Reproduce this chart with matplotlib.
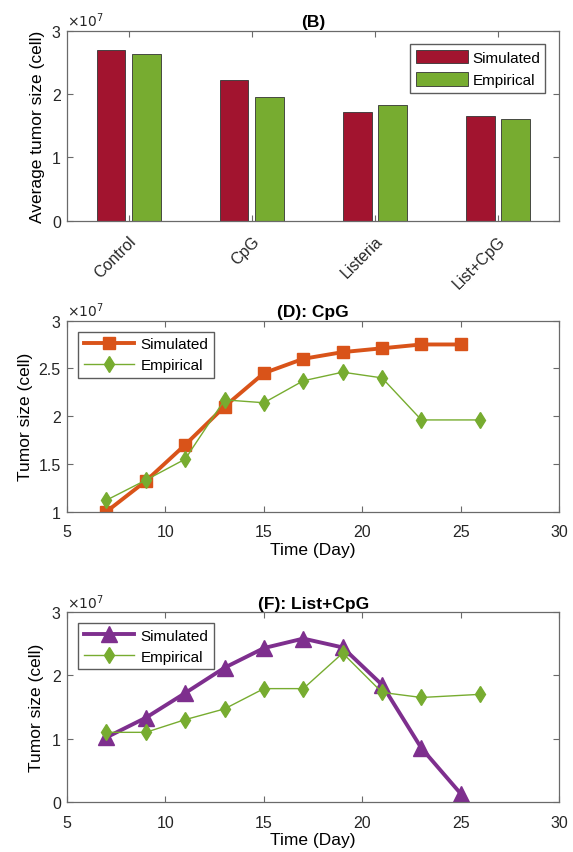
import matplotlib
matplotlib.use("Agg")
import matplotlib.pyplot as plt
from matplotlib.ticker import FuncFormatter
import numpy as np

plt.rcParams["font.family"] = ["Liberation Sans", "DejaVu Sans"]

# panel B: average tumor size per treatment (cells)
treatments = ["Control", "CpG", "Listeria", "List+CpG"]
bar_simulated = [2.70e7, 2.22e7, 1.72e7, 1.65e7]
bar_empirical = [2.63e7, 1.95e7, 1.83e7, 1.60e7]

# panel D: CpG time course
cpg_sim_days = [7, 9, 11, 13, 15, 17, 19, 21, 23, 25]
cpg_sim = [1.00e7, 1.32e7, 1.70e7, 2.10e7, 2.45e7, 2.60e7, 2.67e7, 2.71e7, 2.75e7, 2.75e7]
cpg_emp_days = [7, 9, 11, 13, 15, 17, 19, 21, 23, 26]
cpg_emp = [1.12e7, 1.33e7, 1.55e7, 2.17e7, 2.14e7, 2.37e7, 2.46e7, 2.40e7, 1.96e7, 1.96e7]

# panel F: List+CpG time course
combo_sim_days = [7, 9, 11, 13, 15, 17, 19, 21, 23, 25]
combo_sim = [1.02e7, 1.33e7, 1.72e7, 2.12e7, 2.43e7, 2.58e7, 2.44e7, 1.85e7, 0.85e7, 0.13e7]
combo_emp_days = [7, 9, 11, 13, 15, 17, 19, 21, 23, 26]
combo_emp = [1.10e7, 1.10e7, 1.30e7, 1.47e7, 1.79e7, 1.79e7, 2.35e7, 1.73e7, 1.65e7, 1.70e7]

RED = "#A2142F"
GREEN = "#77AC30"
ORANGE = "#D95319"
PURPLE = "#7E2F8E"
AXCOL = "#6a6a6a"
TXT = "#262626"

fmt = FuncFormatter(lambda v, _: f"{v / 1e7:g}")


def style(ax, title):
    for s in ax.spines.values():
        s.set_color(AXCOL)
        s.set_linewidth(0.9)
    ax.tick_params(direction="in", top=True, right=True, colors=AXCOL,
                   labelcolor=TXT, labelsize=11.5, length=4)
    ax.tick_params(axis="x", pad=9)
    ax.tick_params(axis="y", pad=4.5)
    ax.yaxis.set_major_formatter(fmt)
    ax.text(0.0, 1.006, r"$\times10^{7}$", transform=ax.transAxes,
            fontsize=10, color=TXT, ha="left", va="bottom")
    ax.set_title(title, fontsize=12.5, fontweight="bold", pad=3, color="black")


def legend(ax, loc):
    ax.legend(loc=loc, fontsize=11, frameon=True, fancybox=False,
              edgecolor="#333333", handlelength=3.3, borderaxespad=0.75,
              borderpad=0.35, labelspacing=0.45, handletextpad=0.4)


fig = plt.figure(figsize=(5.73, 8.53), dpi=100)
L, W = 0.117, 0.859

# (B)
ax = fig.add_axes([L, 0.740, W, 0.223])
x = np.arange(1, len(treatments) + 1)
ax.bar(x - 0.143, bar_simulated, 0.235, color=RED, edgecolor="#333333",
       linewidth=0.6, label="Simulated")
ax.bar(x + 0.143, bar_empirical, 0.235, color=GREEN, edgecolor="#333333",
       linewidth=0.6, label="Empirical")
ax.set_xlim(0.5, 4.5)
ax.set_ylim(0, 3e7)
ax.set_yticks([0, 1e7, 2e7, 3e7])
ax.set_xticks(x)
ax.set_xticklabels(treatments, rotation=45, ha="right", rotation_mode="anchor")
style(ax, "(B)")
ax.tick_params(axis="x", pad=9)
ax.set_ylabel("Average tumor size (cell)", fontsize=12.5, labelpad=5)
ax.legend(loc="upper right", fontsize=11, frameon=True, fancybox=False,
          edgecolor="#333333", handlelength=3.4, handleheight=1.0,
          borderaxespad=0.9, borderpad=0.35, labelspacing=0.5,
          handletextpad=0.3)

# (D)
ax = fig.add_axes([L, 0.399, W, 0.224])
ax.plot(cpg_sim_days, cpg_sim, "-s", color=ORANGE, lw=2.8, ms=8,
        label="Simulated")
ax.plot(cpg_emp_days, cpg_emp, "-d", color=GREEN, lw=1.0, ms=8.5,
        label="Empirical")
ax.set_xlim(5, 30)
ax.set_ylim(1e7, 3e7)
ax.set_yticks([1e7, 1.5e7, 2e7, 2.5e7, 3e7])
style(ax, "(D): CpG")
ax.set_xlabel("Time (Day)", fontsize=12.5, labelpad=2)
ax.set_ylabel("Tumor size (cell)", fontsize=12.5, labelpad=4)
legend(ax, "upper left")

# (F)
ax = fig.add_axes([L, 0.0586, W, 0.2228])
ax.plot(combo_sim_days, combo_sim, "-^", color=PURPLE, lw=2.8, ms=12,
        label="Simulated")
ax.plot(combo_emp_days, combo_emp, "-d", color=GREEN, lw=1.0, ms=8.5,
        label="Empirical")
ax.set_xlim(5, 30)
ax.set_ylim(0, 3e7)
ax.set_yticks([0, 1e7, 2e7, 3e7])
style(ax, "(F): List+CpG")
ax.set_xlabel("Time (Day)", fontsize=12.5, labelpad=2)
ax.set_ylabel("Tumor size (cell)", fontsize=12.5, labelpad=6)
legend(ax, "upper left")

fig.savefig("out.png", dpi=100)
